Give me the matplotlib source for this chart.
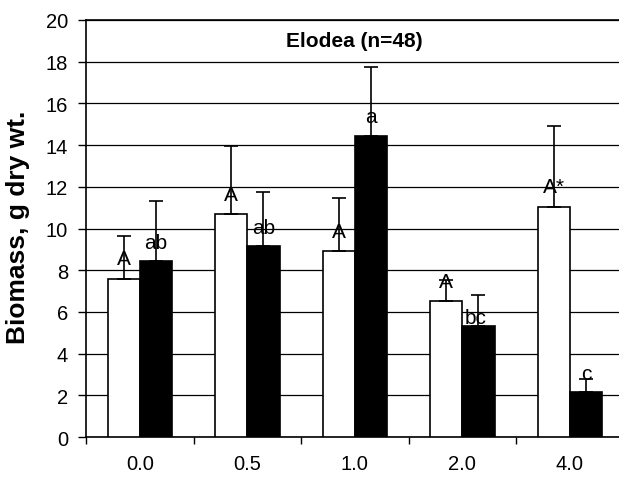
import numpy as np
import matplotlib
matplotlib.use("Agg")
import matplotlib.pyplot as plt

plt.rcParams['font.family'] = ['Liberation Sans', 'DejaVu Sans']

categories = ["0.0", "0.5", "1.0", "2.0", "4.0"]
white_vals = [7.6, 10.7, 8.9, 6.5, 11.05]
white_err = [2.05, 3.25, 2.55, 1.05, 3.85]
black_vals = [8.45, 9.15, 14.45, 5.3, 2.15]
black_err = [2.85, 2.6, 3.3, 1.5, 0.65]
white_labels = ["A", "A", "A", "A", "A*"]
black_labels = ["ab", "ab", "a", "bc", "c"]

fig = plt.figure(figsize=(6.19, 4.81), dpi=100)
ax = fig.add_axes([86/619, 1-438/481, (623.5-86)/619, (438-21)/481])

x = np.arange(len(categories))
w = 0.3
zeros = np.zeros(len(categories))

ax.bar(x - w/2, white_vals, w, color="white", edgecolor="black", linewidth=1.2, zorder=3)
ax.bar(x + w/2, black_vals, w, color="black", edgecolor="black", linewidth=1.2, zorder=3)
ax.errorbar(x - w/2, white_vals, yerr=[zeros, white_err], fmt="none", ecolor="black",
            elinewidth=1.2, capsize=4.7, capthick=1.2, zorder=4)
ax.errorbar(x + w/2, black_vals, yerr=[zeros, black_err], fmt="none", ecolor="black",
            elinewidth=1.2, capsize=4.7, capthick=1.2, zorder=4)

# significance letters just above each bar
for i in range(len(categories)):
    ax.text(x[i] - w/2, white_vals[i] + 0.95, white_labels[i], ha="center", va="center",
            fontsize=15, zorder=5)
    dx = -0.03 if black_labels[i] == "bc" else 0
    off = 0.45 if black_labels[i] == "bc" else 0.9
    ax.text(x[i] + w/2 + dx, black_vals[i] + off, black_labels[i], ha="center", va="center",
            fontsize=15, zorder=5)

ax.set_ylim(0, 20)
ax.set_xlim(-0.5, 4.5)
ax.set_yticks(np.arange(0, 21, 2))
ax.yaxis.grid(True, color="black", linewidth=0.9)
ax.set_axisbelow(True)

ax.set_xticks(x)
ax.set_xticklabels(categories)
ax.set_xticks(np.arange(-0.5, 5, 1), minor=True)
ax.tick_params(axis="x", which="major", length=0, pad=12, labelsize=14.5)
ax.tick_params(axis="x", which="minor", length=5, width=1, direction="out")
ax.tick_params(axis="y", length=6, width=1, direction="out", pad=7, labelsize=14.5)

ax.spines["right"].set_visible(False)
for s in ["left", "bottom", "top"]:
    ax.spines[s].set_linewidth(1.2)

ax.set_ylabel("Biomass, g dry wt.", fontsize=19, fontweight="bold")
ax.yaxis.set_label_coords(-0.104, 0.505)
ax.text(0.5, 0.952, "Elodea (n=48)", transform=ax.transAxes, ha="center", va="center",
        fontsize=15, fontweight="bold")

fig.savefig("out.png", dpi=100)
